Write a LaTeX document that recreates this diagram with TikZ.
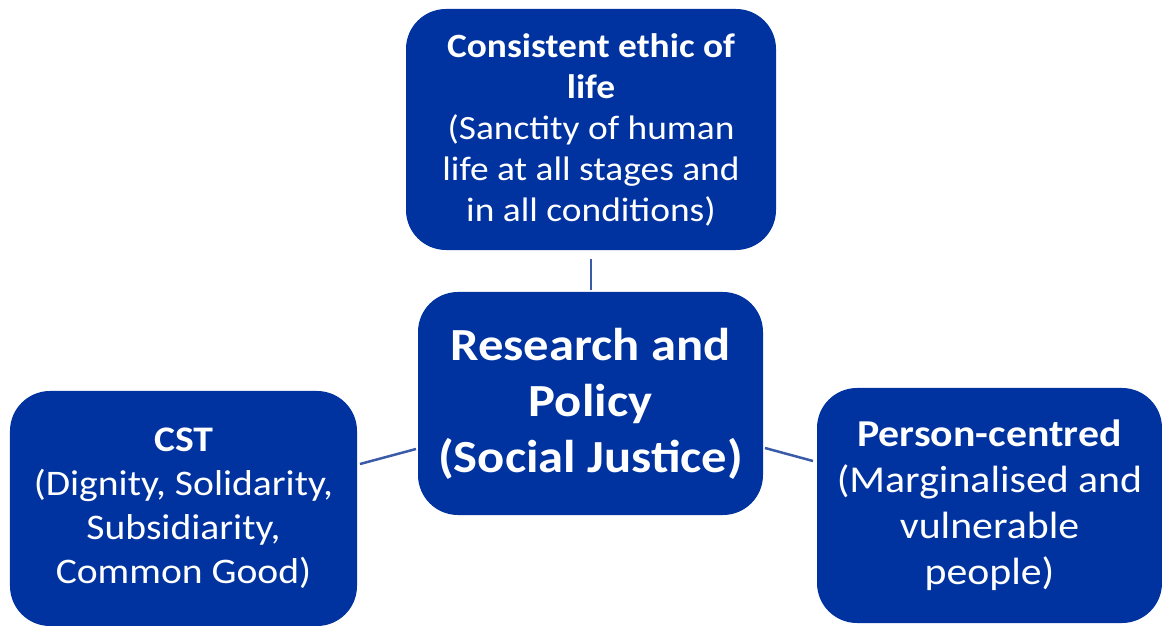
\documentclass[tikz,border=0pt]{standalone}
\usepackage{fontspec}
\setmainfont[FakeStretch=1.1]{Carlito}
\definecolor{boxblue}{HTML}{0033A0}
\definecolor{linkblue}{HTML}{3A5BA8}
\begin{document}
\begin{tikzpicture}[x=1bp,y=-1bp,
  box/.style={rectangle, rounded corners=40bp, fill=boxblue, text=white, align=center, inner sep=0pt},
  conn/.style={draw=linkblue, line width=2.5bp}]
\useasboundingbox (0,0) rectangle (1162,626);
\node[box, minimum width=370bp, minimum height=241bp, font={\fontsize{34bp}{41bp}\selectfont}] (top) at (591,129.5)
  {\textbf{Consistent ethic of}\\\textbf{life}\\(Sanctity of human\\life at all stages and\\in all conditions)};
\node[box, minimum width=345bp, minimum height=223bp, font={\fontsize{46bp}{56bp}\selectfont\bfseries}] (center) at (590.5,403.5)
  {Research and\\Policy\\(Social Justice)};
\node[box, minimum width=347bp, minimum height=235bp, font={\fontsize{36bp}{44bp}\selectfont}] (left) at (183.5,508.5)
  {\textbf{CST}\\(Dignity, Solidarity,\\Subsidiarity,\\Common Good)};
\node[box, minimum width=345bp, minimum height=235bp, font={\fontsize{38bp}{46bp}\selectfont}] (right) at (989.5,505.5)
  {\textbf{Person-centred}\\(Marginalised and\\vulnerable\\people)};
\coordinate (t1) at (591,259);
\coordinate (t2) at (591,290);
\coordinate (l1) at (360,464);
\coordinate (l2) at (416,449);
\coordinate (r1) at (765,448);
\coordinate (r2) at (813,461);
\draw[conn] (t1) -- (t2);
\draw[conn] (l1) -- (l2);
\draw[conn] (r1) -- (r2);
\end{tikzpicture}
\end{document}
